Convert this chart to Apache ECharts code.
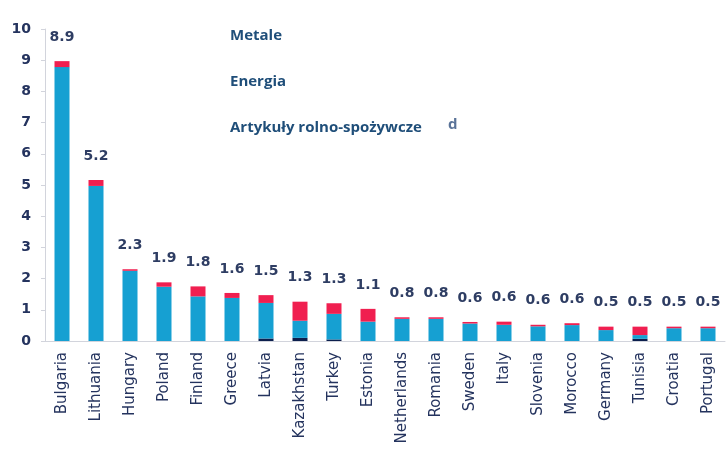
<!DOCTYPE html>
<html><head><meta charset="utf-8">
<script src="https://cdn.jsdelivr.net/npm/echarts@6/dist/echarts.min.js"></script>
<style>html,body{margin:0;padding:0;background:#fff}#c{width:728px;height:455px}</style>
</head><body><div id="c"></div>
<script>
const categories = ["Bulgaria","Lithuania","Hungary","Poland","Finland","Greece","Latvia","Kazakhstan","Turkey","Estonia","Netherlands","Romania","Sweden","Italy","Slovenia","Morocco","Germany","Tunisia","Croatia","Portugal"];
const metale   = [0,0,0,0,0,0,0.08,0.1,0.05,0,0,0,0,0,0,0,0,0.07,0,0];
const energia  = [8.78,4.97,2.25,1.74,1.43,1.38,1.14,0.55,0.82,0.62,0.71,0.71,0.56,0.52,0.47,0.51,0.35,0.12,0.41,0.41];
const rolno    = [0.19,0.19,0.05,0.14,0.32,0.16,0.25,0.61,0.34,0.41,0.05,0.05,0.05,0.1,0.05,0.06,0.11,0.27,0.05,0.05];
const totalLabels = ["8.9","5.2","2.3","1.9","1.8","1.6","1.5","1.3","1.3","1.1","0.8","0.8","0.6","0.6","0.6","0.6","0.5","0.5","0.5","0.5"];
const seriesNames = ["Metale","Energia","Artykuły rolno-spożywcze"];
const yTicks = [0,1,2,3,4,5,6,7,8,9,10];

const chart = echarts.init(document.getElementById('c'));
const textCol = '#24335e';
chart.setOption({
  animation:false,
  grid:{left:45,right:3,top:29,bottom:114},
  legend:{
    orient:'vertical',left:220,top:23,itemGap:31,itemWidth:0,itemHeight:0,
    data:seriesNames,
    textStyle:{color:'#1f4e79',fontWeight:'bold',fontSize:15,fontFamily:'Open Sans'}
  },
  graphic:[{type:'text',left:448,top:117,style:{text:'d',fill:'#3d5a86',font:'bold 15px "Open Sans"',opacity:0.85}}],
  xAxis:{
    type:'category',data:categories,
    axisLine:{lineStyle:{color:'#d2d4dc'}},
    axisTick:{show:false},
    axisLabel:{rotate:90,color:textCol,fontSize:15,fontFamily:'DejaVu Sans',margin:11,interval:0}
  },
  yAxis:{
    type:'value',min:yTicks[0],max:yTicks[yTicks.length-1],interval:1,
    axisLine:{show:true,lineStyle:{color:'#d2d4dc'}},
    axisTick:{show:true,length:4,lineStyle:{color:'#d2d4dc'}},
    splitLine:{show:false},
    axisLabel:{color:textCol,fontSize:14,fontFamily:'DejaVu Sans',fontWeight:'bold',margin:14}
  },
  series:[
    {name:seriesNames[0],type:'bar',stack:'a',data:metale,barWidth:15,itemStyle:{color:'#0c1f4d'}},
    {name:seriesNames[1],type:'bar',stack:'a',data:energia,barWidth:15,itemStyle:{color:'#16a0d2'}},
    {name:seriesNames[2],type:'bar',stack:'a',data:rolno,barWidth:15,itemStyle:{color:'#f01f50'},
     label:{show:true,position:'top',distance:17,formatter:p=>totalLabels[p.dataIndex],
       color:'#2e3d63',fontSize:14,fontFamily:'DejaVu Sans',fontWeight:'bold'}}
  ]
});
</script></body></html>
